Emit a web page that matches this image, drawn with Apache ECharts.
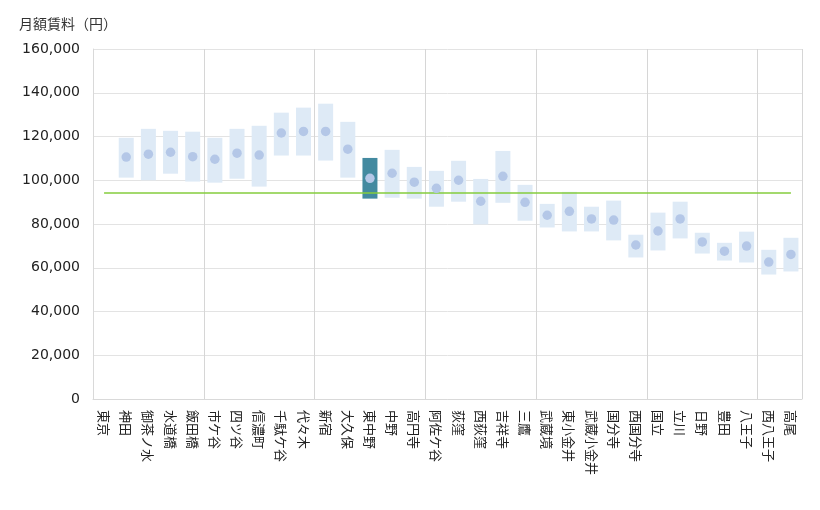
<!DOCTYPE html>
<html><head><meta charset="utf-8">
<script src="https://cdn.jsdelivr.net/npm/echarts@6/dist/echarts.min.js"></script>
<style>html,body{margin:0;padding:0;background:#fff}#c{width:820px;height:510px}</style>
</head><body><div id="c"></div>
<script>
const categories = ['東京','神田','御茶ノ水','水道橋','飯田橋','市ケ谷','四ツ谷','信濃町','千駄ケ谷','代々木','新宿','大久保','東中野','中野','高円寺','阿佐ケ谷','荻窪','西荻窪','吉祥寺','三鷹','武蔵境','東小金井','武蔵小金井','国分寺','西国分寺','国立','立川','日野','豊田','八王子','西八王子','高尾'];
const lowValues  = [null,101200,100000,103000,99400,98900,100700,97100,111300,111300,109000,101200,91600,92000,91600,87900,90200,79800,89700,81500,78400,76600,76600,72500,64700,67900,73400,66500,63300,62400,56900,58300];
const highValues = [null,119400,123500,122600,122200,119400,123500,124900,130900,133200,135000,126700,110200,113900,106100,104300,108900,100600,113400,97900,89200,94700,87900,90700,75100,85200,90200,76000,71400,76500,68200,73700];
const meanValues = [null,110600,111900,112800,110800,109600,112400,111500,121600,122300,122300,114200,100900,103200,99100,96300,100000,90400,101800,89900,84000,85800,82300,81800,70400,76800,82300,71800,67600,69900,62600,66100];
const averageValue = 94500;
const highlighted = '東中野';
const yTicks = [0,20000,40000,60000,80000,100000,120000,140000,160000];

const rangeData = categories.map((c,i) => {
  if (lowValues[i] == null) return null;
  const v = highValues[i] - lowValues[i];
  return c === highlighted ? {value: v, itemStyle: {color: '#438aa0'}} : v;
});

const chart = echarts.init(document.getElementById('c'));
chart.setOption({
  animation: false,
  title: {text: '月額賃料（円）', left: 14, top: 12, textStyle: {fontSize: 14, fontWeight: 'normal', color: '#333', fontFamily: 'Noto Sans CJK JP'}},
  grid: {left: 93, right: 18, top: 49, bottom: 111, containLabel: false},
  xAxis: {
    type: 'category', data: categories, boundaryGap: true,
    axisLine: {show: true, lineStyle: {color: '#d9d9d9'}},
    axisTick: {show: false},
    axisLabel: {interval: 0, rotate: -90, fontSize: 13, color: '#222', fontFamily: 'Noto Sans CJK JP', margin: 11},
    splitLine: {show: true, interval: (i) => i % 5 === 0, lineStyle: {color: '#d6d6d6'}}
  },
  yAxis: {
    type: 'value', min: yTicks[0], max: yTicks[yTicks.length-1], interval: 20000,
    axisLine: {show: true, lineStyle: {color: '#d9d9d9'}},
    axisTick: {show: false},
    axisLabel: {fontSize: 14, color: '#222', fontFamily: 'DejaVu Sans', margin: 13, formatter: v => v.toLocaleString('en-US')},
    splitLine: {lineStyle: {color: '#e3e3e3'}}
  },
  series: [
    {type: 'bar', stack: 'r', data: lowValues, barWidth: 15, itemStyle: {color: 'rgba(0,0,0,0)'}, silent: true, z: 2},
    {type: 'bar', stack: 'r', data: rangeData, barWidth: 15, itemStyle: {color: '#deeaf6'}, z: 2},
    {type: 'line', data: [], symbol: 'none', z: 3,
      markLine: {silent: true, symbol: 'none', label: {show: false}, lineStyle: {color: '#84cc3c', width: 1.5, type: 'solid'},
        data: [[{coord: [categories[0], averageValue]}, {coord: [categories[categories.length-1], averageValue]}]]}},
    {type: 'scatter', data: meanValues, symbolSize: 9.5, itemStyle: {color: '#b4c7e7', opacity: 1}, z: 5}
  ]
});
</script></body></html>
